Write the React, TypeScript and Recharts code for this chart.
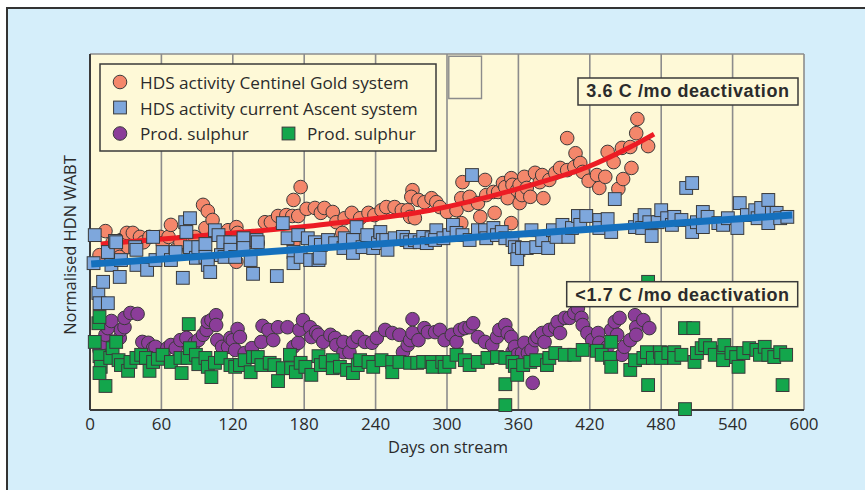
import React from 'react';
import { ComposedChart, Scatter, XAxis, YAxis, CartesianGrid, ReferenceArea } from 'recharts';

const dayTicks = [0, 60, 120, 180, 240, 300, 360, 420, 480, 540, 600];
const levelTicks = [0, 10, 20, 30, 40, 50, 60, 70, 80];

const legendLabels = [
  'HDS activity Centinel Gold system',
  'HDS activity current Ascent system',
  'Prod. sulphur',
  'Prod. sulphur',
];
const annotationTop = '3.6 C /mo deactivation';
const annotationBottom = '<1.7 C /mo deactivation';
const xTitle = 'Days on stream';
const yTitle = 'Normalised HDN WABT';

// HDS activity, Centinel Gold system (orange circles)
const goldActivity = [
  { day: 8, v: 34.8 }, { day: 13, v: 40.2 }, { day: 19, v: 37.7 }, { day: 24, v: 35.5 }, { day: 25, v: 34.4 },
  { day: 26, v: 38.2 }, { day: 31, v: 39.8 }, { day: 32, v: 36.6 }, { day: 36, v: 39.8 }, { day: 42, v: 38.9 },
  { day: 45, v: 37.7 }, { day: 50, v: 38.9 }, { day: 59, v: 38.9 }, { day: 61, v: 37.5 }, { day: 66, v: 38.9 },
  { day: 68, v: 41.6 }, { day: 72, v: 36.0 }, { day: 76, v: 37.7 }, { day: 88, v: 38.9 }, { day: 91, v: 36.6 },
  { day: 95, v: 46.1 }, { day: 97, v: 40.9 }, { day: 99, v: 44.7 }, { day: 103, v: 42.7 }, { day: 105, v: 39.8 },
  { day: 116, v: 40.4 }, { day: 123, v: 41.1 }, { day: 124, v: 39.8 }, { day: 123, v: 33.3 }, { day: 130, v: 37.1 },
  { day: 135, v: 38.6 }, { day: 141, v: 37.5 }, { day: 147, v: 42.2 }, { day: 152, v: 42.2 }, { day: 158, v: 43.6 },
  { day: 165, v: 43.8 }, { day: 170, v: 43.6 }, { day: 171, v: 47.2 }, { day: 177, v: 50.1 }, { day: 171, v: 37.5 },
  { day: 175, v: 43.6 }, { day: 182, v: 45.2 }, { day: 189, v: 45.4 }, { day: 194, v: 44.3 }, { day: 197, v: 45.4 },
  { day: 204, v: 44.5 }, { day: 207, v: 42.2 }, { day: 212, v: 39.8 }, { day: 214, v: 43.1 }, { day: 220, v: 44.3 },
  { day: 227, v: 43.1 }, { day: 234, v: 44.3 }, { day: 239, v: 43.8 }, { day: 245, v: 44.9 }, { day: 249, v: 45.6 },
  { day: 256, v: 45.6 }, { day: 262, v: 44.9 }, { day: 267, v: 44.9 }, { day: 269, v: 43.4 }, { day: 271, v: 49.4 },
  { day: 270, v: 47.9 }, { day: 273, v: 43.1 }, { day: 276, v: 47.2 }, { day: 281, v: 46.7 }, { day: 287, v: 47.6 },
  { day: 291, v: 46.7 }, { day: 294, v: 45.6 }, { day: 300, v: 44.5 }, { day: 308, v: 44.9 }, { day: 312, v: 47.6 },
  { day: 312, v: 42.0 }, { day: 313, v: 51.2 }, { day: 318, v: 46.1 }, { day: 319, v: 47.9 }, { day: 326, v: 46.5 },
  { day: 328, v: 43.4 }, { day: 332, v: 51.7 }, { day: 333, v: 48.3 }, { day: 339, v: 49.0 }, { day: 340, v: 44.3 },
  { day: 343, v: 49.0 }, { day: 347, v: 51.0 }, { day: 349, v: 50.1 }, { day: 351, v: 47.6 }, { day: 354, v: 52.1 },
  { day: 354, v: 42.0 }, { day: 355, v: 50.6 }, { day: 359, v: 49.4 }, { day: 361, v: 50.6 }, { day: 361, v: 46.5 },
  { day: 363, v: 48.3 }, { day: 365, v: 52.4 }, { day: 367, v: 49.9 }, { day: 370, v: 47.9 }, { day: 374, v: 53.3 },
  { day: 378, v: 51.2 }, { day: 380, v: 52.8 }, { day: 381, v: 47.6 }, { day: 386, v: 51.7 }, { day: 391, v: 53.3 },
  { day: 395, v: 54.4 }, { day: 401, v: 53.9 }, { day: 401, v: 61.1 }, { day: 407, v: 54.6 }, { day: 408, v: 57.7 },
  { day: 412, v: 55.5 }, { day: 414, v: 53.5 }, { day: 419, v: 51.5 }, { day: 426, v: 52.8 }, { day: 428, v: 49.9 },
  { day: 433, v: 52.4 }, { day: 435, v: 58.0 }, { day: 440, v: 55.7 }, { day: 444, v: 49.7 }, { day: 447, v: 58.9 },
  { day: 448, v: 51.9 }, { day: 454, v: 59.1 }, { day: 455, v: 54.4 }, { day: 459, v: 62.2 }, { day: 460, v: 65.4 },
  { day: 469, v: 59.3 },
];

// HDS activity, current Ascent system (blue squares)
const ascentActivity = [
  { day: 3, v: 33.0 }, { day: 4, v: 39.3 }, { day: 7, v: 26.3 }, { day: 8, v: 24.0 }, { day: 11, v: 28.8 },
  { day: 15, v: 24.0 }, { day: 15, v: 35.5 }, { day: 18, v: 32.6 }, { day: 21, v: 38.0 }, { day: 22, v: 37.7 },
  { day: 25, v: 29.9 }, { day: 26, v: 33.7 }, { day: 38, v: 36.6 }, { day: 39, v: 32.6 }, { day: 39, v: 36.0 },
  { day: 48, v: 31.5 }, { day: 53, v: 38.9 }, { day: 55, v: 33.7 }, { day: 61, v: 35.5 }, { day: 68, v: 33.7 },
  { day: 72, v: 35.5 }, { day: 78, v: 29.7 }, { day: 80, v: 42.2 }, { day: 84, v: 43.1 }, { day: 81, v: 40.0 },
  { day: 84, v: 36.6 }, { day: 89, v: 34.2 }, { day: 91, v: 36.6 }, { day: 97, v: 37.3 }, { day: 97, v: 34.4 },
  { day: 99, v: 32.6 }, { day: 101, v: 31.0 }, { day: 105, v: 40.4 }, { day: 108, v: 39.3 }, { day: 112, v: 37.7 },
  { day: 110, v: 34.8 }, { day: 113, v: 34.4 }, { day: 118, v: 37.7 }, { day: 118, v: 36.0 }, { day: 122, v: 34.4 },
  { day: 129, v: 38.6 }, { day: 129, v: 36.4 }, { day: 135, v: 33.7 }, { day: 137, v: 30.6 }, { day: 140, v: 38.2 },
  { day: 141, v: 37.7 }, { day: 157, v: 30.1 }, { day: 162, v: 42.0 }, { day: 166, v: 38.6 }, { day: 171, v: 35.5 },
  { day: 171, v: 33.0 }, { day: 175, v: 39.3 }, { day: 177, v: 34.4 }, { day: 183, v: 38.6 }, { day: 185, v: 33.7 },
  { day: 189, v: 37.7 }, { day: 192, v: 33.7 }, { day: 194, v: 37.1 }, { day: 193, v: 34.2 }, { day: 200, v: 38.2 },
  { day: 206, v: 37.5 }, { day: 213, v: 36.4 }, { day: 214, v: 38.6 }, { day: 221, v: 38.2 }, { day: 221, v: 35.3 },
  { day: 224, v: 41.1 }, { day: 229, v: 36.6 }, { day: 233, v: 39.3 }, { day: 238, v: 36.4 }, { day: 242, v: 37.5 },
  { day: 244, v: 40.0 }, { day: 246, v: 38.2 }, { day: 249, v: 38.2 }, { day: 250, v: 36.0 }, { day: 256, v: 38.6 },
  { day: 263, v: 38.9 }, { day: 266, v: 38.2 }, { day: 269, v: 37.7 }, { day: 273, v: 38.2 }, { day: 277, v: 37.7 },
  { day: 280, v: 38.9 }, { day: 283, v: 37.5 }, { day: 287, v: 38.6 }, { day: 291, v: 40.4 }, { day: 290, v: 38.2 },
  { day: 297, v: 38.6 }, { day: 302, v: 39.3 }, { day: 305, v: 41.6 }, { day: 308, v: 39.8 }, { day: 313, v: 39.3 },
  { day: 319, v: 38.2 }, { day: 321, v: 52.8 }, { day: 326, v: 40.4 }, { day: 332, v: 40.4 }, { day: 333, v: 38.6 },
  { day: 339, v: 40.9 }, { day: 342, v: 39.3 }, { day: 346, v: 40.0 }, { day: 349, v: 38.6 }, { day: 355, v: 38.2 },
  { day: 357, v: 36.6 }, { day: 360, v: 36.0 }, { day: 359, v: 33.9 }, { day: 363, v: 36.4 }, { day: 367, v: 36.4 },
  { day: 371, v: 40.4 }, { day: 375, v: 36.6 }, { day: 380, v: 38.2 }, { day: 385, v: 36.4 }, { day: 389, v: 40.4 },
  { day: 392, v: 38.9 }, { day: 397, v: 41.6 }, { day: 402, v: 38.9 }, { day: 405, v: 40.9 }, { day: 410, v: 43.6 },
  { day: 412, v: 41.6 }, { day: 417, v: 43.6 }, { day: 428, v: 42.7 }, { day: 428, v: 40.9 }, { day: 435, v: 42.9 },
  { day: 438, v: 40.0 }, { day: 441, v: 47.4 }, { day: 458, v: 41.1 }, { day: 462, v: 42.7 }, { day: 464, v: 40.9 },
  { day: 466, v: 43.8 }, { day: 470, v: 42.2 }, { day: 472, v: 39.1 }, { day: 477, v: 42.2 }, { day: 480, v: 44.9 },
  { day: 485, v: 43.1 }, { day: 489, v: 41.6 }, { day: 491, v: 43.4 }, { day: 497, v: 42.7 }, { day: 501, v: 49.9 },
  { day: 506, v: 51.0 }, { day: 506, v: 40.0 }, { day: 510, v: 42.2 }, { day: 515, v: 44.5 }, { day: 515, v: 41.1 },
  { day: 519, v: 43.4 }, { day: 528, v: 42.0 }, { day: 532, v: 41.6 }, { day: 536, v: 43.1 }, { day: 544, v: 40.9 },
  { day: 546, v: 46.5 }, { day: 552, v: 43.8 }, { day: 559, v: 44.9 }, { day: 561, v: 43.1 }, { day: 564, v: 45.4 },
  { day: 570, v: 47.2 }, { day: 570, v: 42.0 }, { day: 573, v: 44.3 }, { day: 577, v: 44.3 }, { day: 580, v: 43.1 },
  { day: 586, v: 43.4 },
];

// Product sulphur, Centinel Gold system (purple circles)
const goldSulphur = [
  { day: 8, v: 13.5 }, { day: 11, v: 15.1 }, { day: 13, v: 16.9 }, { day: 15, v: 18.4 }, { day: 18, v: 20.0 },
  { day: 25, v: 16.2 }, { day: 26, v: 18.0 }, { day: 29, v: 18.6 }, { day: 29, v: 20.7 }, { day: 34, v: 21.8 },
  { day: 40, v: 21.6 }, { day: 44, v: 15.3 }, { day: 49, v: 15.1 }, { day: 53, v: 13.9 }, { day: 55, v: 14.2 },
  { day: 65, v: 13.9 }, { day: 68, v: 14.6 }, { day: 72, v: 13.9 }, { day: 76, v: 15.7 }, { day: 81, v: 16.2 },
  { day: 88, v: 15.1 }, { day: 91, v: 15.7 }, { day: 95, v: 16.9 }, { day: 98, v: 18.0 }, { day: 99, v: 19.8 },
  { day: 102, v: 20.2 }, { day: 106, v: 21.3 }, { day: 106, v: 19.1 }, { day: 107, v: 15.7 }, { day: 111, v: 14.2 },
  { day: 116, v: 14.2 }, { day: 118, v: 16.2 }, { day: 120, v: 15.7 }, { day: 124, v: 18.2 }, { day: 126, v: 16.4 },
  { day: 122, v: 13.5 }, { day: 130, v: 12.8 }, { day: 136, v: 13.9 }, { day: 144, v: 15.3 }, { day: 145, v: 18.9 },
  { day: 150, v: 18.0 }, { day: 154, v: 15.7 }, { day: 158, v: 18.6 }, { day: 166, v: 18.6 }, { day: 171, v: 14.2 },
  { day: 175, v: 15.1 }, { day: 176, v: 18.0 }, { day: 179, v: 20.2 }, { day: 185, v: 18.6 }, { day: 186, v: 16.4 },
  { day: 190, v: 17.5 }, { day: 192, v: 16.9 }, { day: 196, v: 15.3 }, { day: 202, v: 16.9 }, { day: 206, v: 16.2 },
  { day: 207, v: 14.6 }, { day: 213, v: 13.0 }, { day: 213, v: 15.3 }, { day: 218, v: 13.0 }, { day: 221, v: 15.3 },
  { day: 225, v: 16.4 }, { day: 231, v: 15.3 }, { day: 237, v: 15.1 }, { day: 241, v: 16.2 }, { day: 248, v: 18.0 },
  { day: 254, v: 17.3 }, { day: 260, v: 16.9 }, { day: 263, v: 13.0 }, { day: 267, v: 14.6 }, { day: 269, v: 15.7 },
  { day: 271, v: 20.4 }, { day: 271, v: 17.3 }, { day: 276, v: 15.7 }, { day: 281, v: 18.4 }, { day: 284, v: 17.5 },
  { day: 290, v: 17.5 }, { day: 294, v: 18.0 }, { day: 298, v: 15.7 }, { day: 304, v: 16.9 }, { day: 308, v: 15.3 },
  { day: 311, v: 18.0 }, { day: 315, v: 18.4 }, { day: 319, v: 18.6 }, { day: 322, v: 19.5 }, { day: 326, v: 16.4 },
  { day: 332, v: 15.3 }, { day: 338, v: 14.6 }, { day: 342, v: 16.4 }, { day: 344, v: 18.0 }, { day: 349, v: 19.1 },
  { day: 351, v: 17.3 }, { day: 354, v: 16.4 }, { day: 355, v: 13.0 }, { day: 357, v: 14.2 }, { day: 359, v: 12.4 },
  { day: 363, v: 12.8 }, { day: 365, v: 15.1 }, { day: 368, v: 12.8 }, { day: 371, v: 13.5 }, { day: 372, v: 6.1 },
  { day: 374, v: 15.7 }, { day: 376, v: 16.4 }, { day: 380, v: 17.3 }, { day: 382, v: 15.3 }, { day: 386, v: 18.0 },
  { day: 391, v: 18.6 }, { day: 393, v: 19.8 }, { day: 395, v: 17.3 }, { day: 399, v: 20.7 }, { day: 403, v: 20.7 },
  { day: 407, v: 21.8 }, { day: 410, v: 22.9 }, { day: 413, v: 20.7 }, { day: 414, v: 19.1 }, { day: 418, v: 17.3 },
  { day: 422, v: 15.7 }, { day: 427, v: 17.3 }, { day: 428, v: 15.1 }, { day: 435, v: 14.2 }, { day: 438, v: 18.0 },
  { day: 441, v: 19.8 }, { day: 443, v: 16.9 }, { day: 445, v: 20.7 }, { day: 447, v: 12.4 }, { day: 449, v: 14.2 },
  { day: 454, v: 15.7 }, { day: 458, v: 21.3 }, { day: 459, v: 18.6 }, { day: 459, v: 16.9 }, { day: 465, v: 20.2 },
  { day: 470, v: 18.4 },
];

// Product sulphur, current Ascent system (green squares)
const ascentSulphur = [
  { day: 4, v: 15.3 }, { day: 7, v: 19.5 }, { day: 8, v: 20.9 }, { day: 8, v: 12.1 }, { day: 9, v: 9.7 },
  { day: 8, v: 8.3 }, { day: 13, v: 5.4 }, { day: 17, v: 11.7 }, { day: 19, v: 13.9 }, { day: 22, v: 15.3 },
  { day: 24, v: 11.2 }, { day: 26, v: 10.1 }, { day: 32, v: 8.8 }, { day: 34, v: 10.8 }, { day: 39, v: 11.7 },
  { day: 43, v: 12.4 }, { day: 47, v: 11.7 }, { day: 50, v: 8.8 }, { day: 53, v: 10.8 }, { day: 57, v: 11.5 },
  { day: 61, v: 12.4 }, { day: 68, v: 10.8 }, { day: 76, v: 11.7 }, { day: 77, v: 8.3 }, { day: 82, v: 11.7 },
  { day: 83, v: 19.3 }, { day: 84, v: 13.9 }, { day: 89, v: 12.4 }, { day: 91, v: 10.3 }, { day: 97, v: 11.7 },
  { day: 99, v: 9.7 }, { day: 102, v: 7.4 }, { day: 105, v: 10.6 }, { day: 110, v: 11.7 }, { day: 118, v: 10.1 },
  { day: 122, v: 9.7 }, { day: 126, v: 10.1 }, { day: 130, v: 11.2 }, { day: 135, v: 8.5 }, { day: 137, v: 11.9 },
  { day: 141, v: 11.9 }, { day: 144, v: 10.1 }, { day: 151, v: 10.6 }, { day: 155, v: 10.1 }, { day: 158, v: 6.5 },
  { day: 162, v: 9.4 }, { day: 168, v: 12.4 }, { day: 169, v: 9.4 }, { day: 173, v: 8.5 }, { day: 177, v: 10.6 },
  { day: 181, v: 9.7 }, { day: 186, v: 7.9 }, { day: 192, v: 12.1 }, { day: 194, v: 10.1 }, { day: 198, v: 10.8 },
  { day: 204, v: 11.2 }, { day: 204, v: 9.4 }, { day: 210, v: 9.7 }, { day: 216, v: 9.0 }, { day: 221, v: 8.3 },
  { day: 225, v: 10.1 }, { day: 227, v: 11.2 }, { day: 234, v: 10.8 }, { day: 238, v: 9.7 }, { day: 245, v: 11.2 },
  { day: 254, v: 10.8 }, { day: 254, v: 8.5 }, { day: 260, v: 10.8 }, { day: 269, v: 10.6 }, { day: 275, v: 10.6 },
  { day: 280, v: 10.8 }, { day: 287, v: 10.8 }, { day: 288, v: 9.7 }, { day: 296, v: 10.8 }, { day: 298, v: 9.7 },
  { day: 302, v: 10.8 }, { day: 308, v: 12.4 }, { day: 315, v: 11.2 }, { day: 319, v: 10.1 }, { day: 326, v: 10.8 },
  { day: 334, v: 11.7 }, { day: 342, v: 11.9 }, { day: 349, v: 11.7 }, { day: 349, v: 1.1 }, { day: 349, v: 5.8 },
  { day: 355, v: 10.8 }, { day: 357, v: 9.9 }, { day: 359, v: 7.9 }, { day: 364, v: 10.1 }, { day: 370, v: 10.8 },
  { day: 375, v: 11.2 }, { day: 384, v: 10.1 }, { day: 386, v: 11.7 }, { day: 391, v: 12.8 }, { day: 399, v: 12.4 },
  { day: 407, v: 12.4 }, { day: 414, v: 13.5 }, { day: 426, v: 13.3 }, { day: 430, v: 12.4 }, { day: 437, v: 11.7 },
  { day: 438, v: 9.7 }, { day: 438, v: 15.3 }, { day: 454, v: 9.0 }, { day: 458, v: 11.2 }, { day: 465, v: 11.7 },
  { day: 468, v: 13.0 }, { day: 469, v: 5.6 }, { day: 469, v: 28.8 }, { day: 473, v: 11.7 }, { day: 479, v: 13.0 },
  { day: 480, v: 11.7 }, { day: 486, v: 12.8 }, { day: 491, v: 13.0 }, { day: 491, v: 11.7 }, { day: 497, v: 12.4 },
  { day: 500, v: 0.2 }, { day: 500, v: 18.4 }, { day: 507, v: 18.4 }, { day: 508, v: 10.8 }, { day: 510, v: 12.8 },
  { day: 514, v: 13.9 }, { day: 517, v: 14.6 }, { day: 521, v: 13.9 }, { day: 525, v: 12.4 }, { day: 532, v: 13.0 },
  { day: 532, v: 11.2 }, { day: 533, v: 14.6 }, { day: 539, v: 12.8 }, { day: 543, v: 11.9 }, { day: 545, v: 9.7 },
  { day: 549, v: 12.8 }, { day: 554, v: 13.9 }, { day: 560, v: 13.5 }, { day: 563, v: 12.4 }, { day: 567, v: 14.2 },
  { day: 570, v: 12.4 }, { day: 575, v: 11.9 }, { day: 580, v: 13.0 }, { day: 582, v: 5.6 }, { day: 585, v: 12.4 },
];

// Trend lines
const goldTrend = [
  { day: 9, v: 37.3 }, { day: 82, v: 38.9 }, { day: 200, v: 41.8 }, { day: 286, v: 44.9 },
  { day: 371, v: 50.6 }, { day: 418, v: 54.6 }, { day: 454, v: 59.1 }, { day: 474, v: 62.0 },
];
const ascentTrend = [
  { day: 1, v: 32.8 }, { day: 590, v: 43.8 },
];

const COLORS = {
  orange: '#f4876b',
  blue: '#7ea7dc',
  purple: '#8b3d99',
  green: '#13a64c',
  red: '#ec1c24',
  blueLine: '#1570bd',
  edge: '#3a3a3a',
  grid: '#8c8c8c',
  plot: '#fef9d7',
  frame: '#d5eefa',
  text: '#2b2b2b',
};

const FONT = "'Open Sans', 'Noto Sans', sans-serif";
const BOLD = "'Liberation Sans', Arial, sans-serif";

const R = 6.8;
const S = 12.8;

const circleShape = (fill: string) => (props: any) => {
  const { cx, cy } = props;
  if (cx == null || cy == null) return <g />;
  return <circle cx={cx} cy={cy} r={R} fill={fill} stroke={COLORS.edge} strokeWidth={1} />;
};
const squareShape = (fill: string) => (props: any) => {
  const { cx, cy } = props;
  if (cx == null || cy == null) return <g />;
  return <rect x={cx - S / 2} y={cy - S / 2} width={S} height={S} fill={fill} stroke={COLORS.edge} strokeWidth={1} />;
};
const noShape = () => <g />;

function Overlay() {
  return (
    <svg width={865} height={490} style={{ position: 'absolute', left: 0, top: 0, pointerEvents: 'none' }}>
      {/* Legend */}
      <rect x={100} y={64} width={336} height={87} fill={COLORS.plot} stroke={COLORS.edge} strokeWidth={1.5} />
      <circle cx={120} cy={82} r={R} fill={COLORS.orange} stroke={COLORS.edge} strokeWidth={1} />
      <text x={140} y={89.3} fontFamily={FONT} fontSize={17.2} fill={COLORS.text}>{legendLabels[0]}</text>
      <rect x={120 - S / 2} y={107.5 - S / 2} width={S} height={S} fill={COLORS.blue} stroke={COLORS.edge} strokeWidth={1} />
      <text x={140} y={114.5} fontFamily={FONT} fontSize={17.2} fill={COLORS.text}>{legendLabels[1]}</text>
      <circle cx={120} cy={133.5} r={R} fill={COLORS.purple} stroke={COLORS.edge} strokeWidth={1} />
      <text x={140} y={140} fontFamily={FONT} fontSize={17.2} fill={COLORS.text}>{legendLabels[2]}</text>
      <rect x={288.5 - S / 2} y={133.5 - S / 2} width={S} height={S} fill={COLORS.green} stroke={COLORS.edge} strokeWidth={1} />
      <text x={307} y={140} fontFamily={FONT} fontSize={17.2} fill={COLORS.text}>{legendLabels[3]}</text>

      {/* Annotations */}
      <rect x={578} y={78} width={220} height={27} fill={COLORS.plot} stroke={COLORS.edge} strokeWidth={1.5} />
      <text x={688} y={97.3} textAnchor="middle" fontFamily={BOLD} fontWeight="bold" fontSize={18} letterSpacing={0.6} fill={COLORS.text}>{annotationTop}</text>
      <rect x={566.7} y={281.7} width={231} height={25} fill={COLORS.plot} stroke={COLORS.edge} strokeWidth={1.5} />
      <text x={682.5} y={300.7} textAnchor="middle" fontFamily={BOLD} fontWeight="bold" fontSize={18} letterSpacing={0.6} fill={COLORS.text}>{annotationBottom}</text>

      {/* Axis titles */}
      <text x={448} y={453} textAnchor="middle" fontFamily={FONT} fontSize={16.5} fill={COLORS.text}>{xTitle}</text>
      <text x={76} y={245} textAnchor="middle" transform="rotate(-90 76 245)" fontFamily={FONT} fontSize={16.5} fill={COLORS.text}>{yTitle}</text>
    </svg>
  );
}

export default function App() {
  return (
    <div style={{ position: 'absolute', left: 0, top: 0, width: 865, height: 490, overflow: 'hidden', background: '#fff' }}>
      <div
        style={{
          position: 'absolute', left: 6, top: 7, width: 859, height: 483, boxSizing: 'border-box',
          background: COLORS.frame, borderLeft: '2px solid #333', borderTop: '2px solid #333',
        }}
      />
      <div style={{ position: 'absolute', left: 0, top: 0 }}>
        <ComposedChart width={865} height={490} margin={{ top: 54, right: 61, bottom: 30, left: 0 }}>
          <CartesianGrid fill={COLORS.plot} fillOpacity={1} stroke={COLORS.grid} strokeWidth={1.6} />
          <XAxis
            type="number"
            dataKey="day"
            domain={[0, 600]}
            ticks={dayTicks}
            interval={0}
            height={50}
            tickLine={false}
            axisLine={{ stroke: COLORS.edge, strokeWidth: 2 }}
            tick={{ fill: COLORS.text, fontSize: 17, fontFamily: FONT }}
          />
          <YAxis
            type="number"
            dataKey="v"
            domain={[0, 80]}
            ticks={levelTicks}
            width={90}
            tick={false}
            tickLine={false}
            axisLine={{ stroke: COLORS.edge, strokeWidth: 2 }}
          />
          <ReferenceArea x1={301.5} x2={329} y1={70} y2={79.5} fill="none" stroke={COLORS.grid} strokeWidth={1.4} />
          <Scatter name="gold" data={goldActivity} shape={circleShape(COLORS.orange)} isAnimationActive={false} />
          <Scatter
            name="goldTrend"
            data={goldTrend}
            shape={noShape}
            line={{ stroke: COLORS.red, strokeWidth: 5 }}
            lineJointType="monotoneX"
            isAnimationActive={false}
          />
          <Scatter name="goldS" data={goldSulphur} shape={circleShape(COLORS.purple)} isAnimationActive={false} />
          <Scatter name="ascent" data={ascentActivity} shape={squareShape(COLORS.blue)} isAnimationActive={false} />
          <Scatter
            name="ascentTrend"
            data={ascentTrend}
            shape={noShape}
            line={{ stroke: COLORS.blueLine, strokeWidth: 7 }}
            lineJointType="linear"
            isAnimationActive={false}
          />
          <Scatter name="ascentS" data={ascentSulphur} shape={squareShape(COLORS.green)} isAnimationActive={false} />
        </ComposedChart>
      </div>
      <Overlay />
    </div>
  );
}
